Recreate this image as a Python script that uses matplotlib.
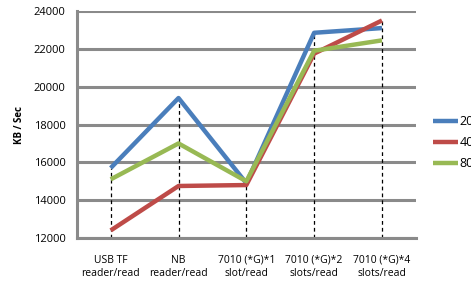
import matplotlib

matplotlib.use("Agg")
import matplotlib.pyplot as plt  # noqa: E402
import numpy as np  # noqa: E402

categories = [
    "USB TF\nreader/read",
    "NB\nreader/read",
    "7010 (*G)*1\nslot/read",
    "7010 (*G)*2\nslots/read",
    "7010 (*G)*4\nslots/read",
]
series_names = ["20", "40", "80"]
blue_vals = [15700, 19400, 14900, 22850, 23100]
red_vals = [12400, 14750, 14800, 21750, 23500]
green_vals = [15100, 17000, 15000, 21900, 22450]
y_ticks = [12000, 14000, 16000, 18000, 20000, 22000, 24000]

colors = ["#4A7EBB", "#BE4B48", "#98B954"]
grid_c = "#8a8a8a"

plt.rcParams["font.family"] = ["Open Sans", "DejaVu Sans"]

fig = plt.figure(figsize=(4.71, 2.83), dpi=100, facecolor="white")
ax = fig.add_axes([0.163, 0.159, 0.72, 0.802])

x = np.arange(len(categories))
all_vals = np.array([blue_vals, red_vals, green_vals])

# drop lines from the highest point to the axis
for xi, top in zip(x, all_vals.max(axis=0)):
    ax.plot([xi, xi], [y_ticks[0], top], ls=(0, (3, 2.5)), color="black", lw=0.9, zorder=2)

for vals, c, name in zip(all_vals, colors, series_names):
    ax.plot(x, vals, color=c, lw=3.2, label=name, zorder=3, solid_capstyle="butt")

ax.set_xlim(-0.5, len(categories) - 0.5)
ax.set_ylim(y_ticks[0], y_ticks[-1])
ax.set_yticks(y_ticks)
ax.set_yticklabels([str(v) for v in y_ticks], fontsize=8)
ax.set_xticks(x)
ax.set_xticklabels(categories, fontsize=7.5, linespacing=1.3)
ax.tick_params(axis="both", length=0, pad=8)
ax.tick_params(axis="x", pad=12)

ax.yaxis.grid(True, color=grid_c, lw=2.2)
ax.set_axisbelow(True)
for s in ["top", "right"]:
    ax.spines[s].set_visible(False)
for s in ["left", "bottom"]:
    ax.spines[s].set_color(grid_c)
    ax.spines[s].set_linewidth(2.2)

ax.set_ylabel("KB / Sec", fontsize=7, fontweight="bold", labelpad=6)

fig.legend(
    loc="upper left",
    bbox_to_anchor=(0.905, 0.615),
    frameon=False,
    fontsize=9,
    handlelength=2.0,
    handletextpad=0.15,
    labelspacing=0.65,
    borderpad=0,
)

fig.savefig("out.png", dpi=100, facecolor=fig.get_facecolor())
